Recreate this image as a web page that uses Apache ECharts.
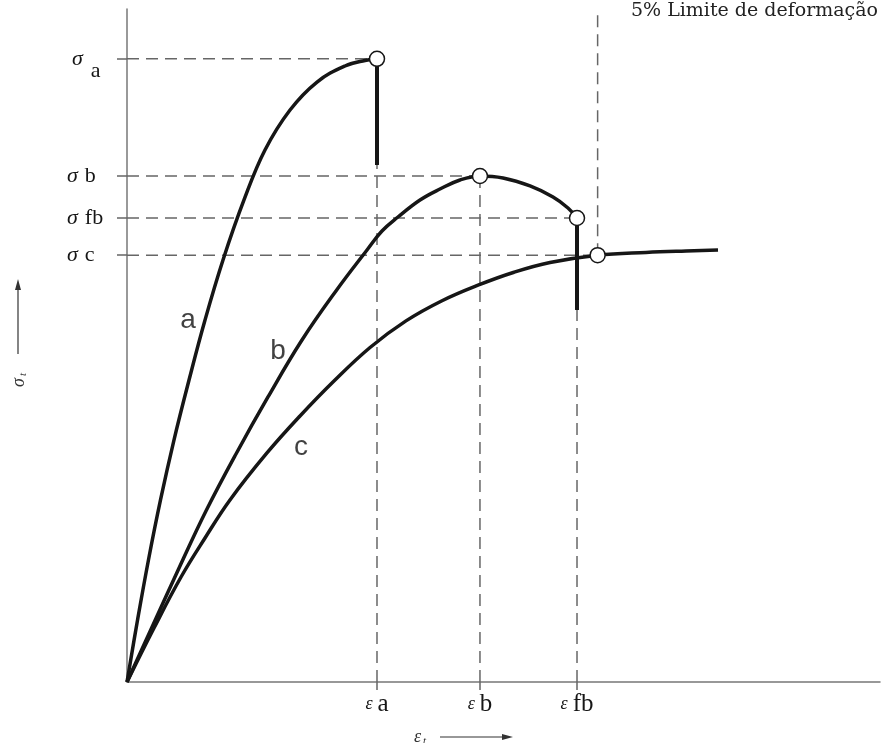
<!DOCTYPE html>
<html>
<head>
<meta charset="utf-8">
<title>Curvas tensão-deformação</title>
<script src="https://cdn.jsdelivr.net/npm/echarts@6/dist/echarts.min.js"></script>
<style>
  html, body { margin: 0; padding: 0; background: #fff; }
  #chart { width: 882px; height: 743px; }
</style>
</head>
<body>
<div id="chart"></div>
<script>
// deformação em %, tensão normalizada (σa = 100)
var curveA = [[0, 0], [0.112, 9.95], [0.228, 19.58], [0.356, 29.21], [0.499, 38.83], [0.659, 48.46],
  [0.829, 58.09], [1.02, 67.72], [1.243, 77.35], [1.466, 85.37], [1.732, 91.79], [2.019, 96.28],
  [2.316, 98.85], [2.529, 99.74], [2.656, 100]];
var curveB = [[0, 0], [0.276, 9.15], [0.553, 18.29], [0.839, 27.44], [1.158, 36.59], [1.498, 45.74],
  [1.859, 54.88], [2.22, 62.75], [2.55, 69.33], [2.709, 72.37], [2.879, 74.62], [3.113, 77.35],
  [3.325, 79.11], [3.538, 80.56], [3.75, 81.2], [3.995, 80.88], [4.282, 79.6], [4.526, 77.83],
  [4.685, 76.07], [4.781, 74.46]];
var curveC = [[0, 0], [0.287, 8.67], [0.574, 16.85], [0.829, 23.11], [1.094, 29.21], [1.487, 36.75],
  [1.838, 42.69], [2.199, 48.3], [2.582, 53.68], [2.964, 57.95], [3.347, 61.19], [3.729, 63.68],
  [4.112, 65.76], [4.494, 67.32], [5.0, 68.5], [5.514, 68.94], [6.024, 69.2], [6.279, 69.33]];

var pointNames = ['a', 'b', 'fb', 'c'];
var pointStrain = [2.656, 3.75, 4.781, 5.0];
var pointStress = [100, 81.2, 74.46, 68.5];
var dropEnd = [82.97, 59.7]; // fim do traço vertical (a e fb)
var curveNames = ['a', 'b', 'c'];
var curveNameAt = [[0.648, 58.1], [1.604, 53.1], [1.849, 37.7]];
var strainMax = 8;
var stressMax = 108;

var serif = '"Liberation Serif", "DejaVu Serif", serif';
var ink = '#161616';
var guideColor = '#666';

var chart = echarts.init(document.getElementById('chart'));

// linhas tracejadas de referência
var guides = [];
pointStrain.forEach(function (x, i) {
  guides.push([[0, pointStress[i]], [x, pointStress[i]]]);
  if (i < 3) guides.push([[x, 0], [x, pointStress[i]]]);
});
guides.push([[pointStrain[3], pointStress[3]], [pointStrain[3], stressMax]]);

var series = guides.map(function (g) {
  return {
    type: 'line',
    data: g,
    symbol: 'none',
    silent: true,
    z: 1,
    lineStyle: { color: guideColor, width: 1.5, type: [12, 7] }
  };
});

[curveA, curveB, curveC].forEach(function (c) {
  series.push({
    type: 'line',
    data: c,
    symbol: 'none',
    smooth: 0.4,
    z: 3,
    lineStyle: { color: ink, width: 3.5 }
  });
});

// ruptura: traço vertical grosso
[0, 2].forEach(function (i, k) {
  series.push({
    type: 'line',
    data: [[pointStrain[i], pointStress[i]], [pointStrain[i], dropEnd[k]]],
    symbol: 'none',
    z: 3,
    lineStyle: { color: ink, width: 4 }
  });
});

series.push({
  type: 'scatter',
  data: pointStrain.map(function (x, i) { return [x, pointStress[i]]; }),
  symbol: 'circle',
  symbolSize: 15,
  z: 5,
  itemStyle: { color: '#fff', opacity: 1, borderColor: ink, borderWidth: 1.5 }
});

series.push({
  type: 'scatter',
  data: curveNames.map(function (n, i) { return { name: n, value: curveNameAt[i] }; }),
  symbolSize: 0,
  z: 6,
  label: {
    show: true,
    position: 'inside',
    formatter: '{b}',
    fontFamily: '"Liberation Sans", "DejaVu Sans", sans-serif',
    fontSize: 28,
    color: '#111'
  }
});

chart.setOption({
  animation: false,
  backgroundColor: '#fff',
  grid: { left: 127, right: 2, top: 9, bottom: 61 },
  xAxis: {
    type: 'value',
    min: 0,
    max: strainMax,
    splitLine: { show: false },
    axisLine: { show: true, lineStyle: { color: '#777', width: 1.5 } },
    axisTick: {
      show: true,
      length: 8,
      customValues: pointStrain.slice(0, 3),
      lineStyle: { color: guideColor, width: 1.5 }
    },
    axisLabel: {
      customValues: pointStrain.slice(0, 3),
      margin: 10,
      formatter: function (v) {
        return '{e|ε}{l|' + pointNames[pointStrain.indexOf(v)] + '}';
      },
      rich: {
        e: { fontFamily: serif, fontStyle: 'italic', fontSize: 18, color: ink },
        l: { fontFamily: serif, fontSize: 25, color: ink, padding: [0, 0, 0, 5] }
      }
    }
  },
  yAxis: {
    type: 'value',
    min: 0,
    max: stressMax,
    splitLine: { show: false },
    axisLine: { show: true, lineStyle: { color: '#777', width: 1.5 } },
    axisTick: {
      show: true,
      length: 10,
      customValues: pointStress,
      lineStyle: { color: guideColor, width: 1.5 }
    },
    axisLabel: {
      customValues: pointStress,
      margin: 60,
      align: 'left',
      formatter: function (v) {
        var n = pointNames[pointStress.indexOf(v)];
        if (n === 'a') return '{sh|σ}{lo|a}';
        return '{s|σ}{l|' + n + '}';
      },
      rich: {
        s: { fontFamily: serif, fontStyle: 'italic', fontSize: 22, color: ink },
        sh: { fontFamily: serif, fontStyle: 'italic', fontSize: 22, color: ink, padding: [0, 0, 0, 5] },
        l: { fontFamily: serif, fontSize: 22, color: ink, padding: [0, 0, 0, 7] },
        lo: { fontFamily: serif, fontSize: 22, color: ink, padding: [24, 0, 0, 8] }
      }
    }
  },
  graphic: [
    {
      type: 'text', right: 4, top: 2,
      style: { text: '5% Limite de deformação', font: '19px "DejaVu Serif"', fill: '#222' }
    },
    {
      type: 'text', x: 414, y: 737,
      style: {
        text: '{e|ε}{t|t}', verticalAlign: 'middle',
        rich: {
          e: { fontFamily: serif, fontStyle: 'italic', fontSize: 18, fill: '#333' },
          t: { fontFamily: serif, fontStyle: 'italic', fontSize: 11, fill: '#333', padding: [8, 0, 0, 2] }
        }
      }
    },
    { type: 'line', shape: { x1: 440, y1: 737, x2: 505, y2: 737 }, style: { stroke: '#333', lineWidth: 1.2 } },
    { type: 'polygon', shape: { points: [[513, 737], [502, 734], [502, 740]] }, style: { fill: '#333' } },
    {
      type: 'text', x: 19, y: 380, rotation: Math.PI / 2,
      style: {
        text: '{e|σ}{t|t}', align: 'center', verticalAlign: 'middle',
        rich: {
          e: { fontFamily: serif, fontStyle: 'italic', fontSize: 18, fill: '#333' },
          t: { fontFamily: serif, fontStyle: 'italic', fontSize: 11, fill: '#333', padding: [8, 0, 0, 2] }
        }
      }
    },
    { type: 'line', shape: { x1: 18, y1: 354, x2: 18, y2: 288 }, style: { stroke: '#333', lineWidth: 1.2 } },
    { type: 'polygon', shape: { points: [[18, 279], [15, 290], [21, 290]] }, style: { fill: '#333' } }
  ],
  series: series
});
</script>
</body>
</html>
